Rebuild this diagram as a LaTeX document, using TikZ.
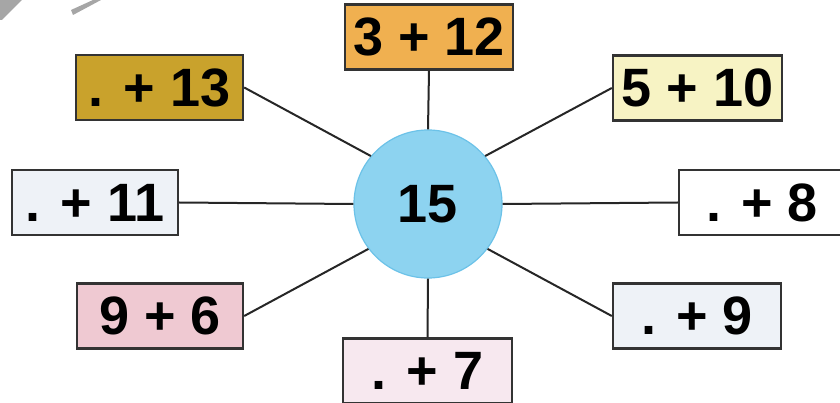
\documentclass[tikz,border=0pt]{standalone}
\usepackage{fontspec}
\setmainfont{Liberation Sans}
\definecolor{hubblue}{HTML}{8DD3F0}
\definecolor{hubedge}{HTML}{6CC2E8}
\definecolor{sumorange}{HTML}{F0B050}
\definecolor{sumgold}{HTML}{C9A22C}
\definecolor{sumyellow}{HTML}{F7F3C4}
\definecolor{sumpink}{HTML}{EFC9D2}
\definecolor{sumrose}{HTML}{F7E8EF}
\definecolor{sumice}{HTML}{EEF2F7}

\begin{document}
\begin{tikzpicture}[x=1pt, y=-1pt,
  sumbox/.style={draw=black!80, line width=2.4pt, minimum height=65pt,
    inner sep=0pt, font=\fontsize{54}{54}\selectfont\bfseries},
  spoke/.style={draw=black!85, line width=2pt}]
  \useasboundingbox (0,0) rectangle (840,403);
  % Knick der Seite oben links
  \fill[gray!70] (0,0) -- (22,0) -- (2,20) -- (0,20) -- cycle;
  \fill[gray!70] (71,10) -- (93,0) -- (101,0) -- (73,15) -- cycle;
  % Mitte
  \node[circle, fill=hubblue, draw=hubedge, line width=1.2pt, minimum size=148pt,
    inner sep=0pt, font=\fontsize{54}{54}\selectfont\bfseries] (c) at (428,204) {15};
  % Aufgaben rund um die 15
  \node[sumbox, fill=sumorange, minimum width=168pt] (b12) at (429,37) {3 + 12};
  \node[sumbox, fill=sumgold, minimum width=167pt] (b13) at (159.5,87.5) {. + 13};
  \node[sumbox, fill=sumyellow, minimum width=169pt] (b10) at (697.5,88) {5 + 10};
  \node[sumbox, fill=sumice, minimum width=166pt] (b11) at (95,202.5) {. + 11};
  \node[sumbox, fill=white, minimum width=166pt] (b8) at (762,202.5) {. + 8};
  \node[sumbox, fill=sumpink, minimum width=166pt] (b6) at (160,316) {9 + 6};
  \node[sumbox, fill=sumice, minimum width=168pt] (b9) at (697,316) {. + 9};
  \node[sumbox, fill=sumrose, minimum width=169pt] (b7) at (427.5,371) {. + 7};
  % Verbindungen
  \draw[spoke] (b12.south) -- (c.north);
  \draw[spoke] (b13.east) -- (c.140);
  \draw[spoke] (b10.west) -- (c.40);
  \draw[spoke] (b11.east) -- (c.west);
  \draw[spoke] (b8.west) -- (c.east);
  \draw[spoke] (b6.east) -- (c.217);
  \draw[spoke] (b9.west) -- (c.323);
  \draw[spoke] (b7.north) -- (c.south);
\end{tikzpicture}
\end{document}
